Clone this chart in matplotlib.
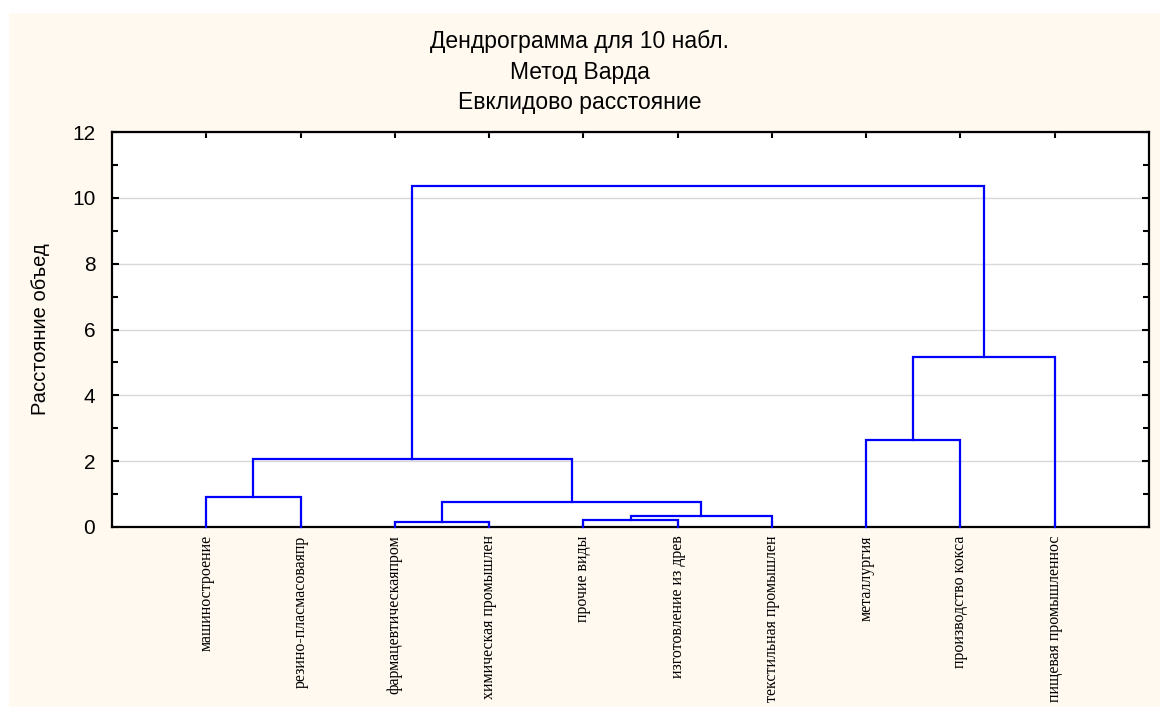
import numpy as np
import matplotlib
matplotlib.use('Agg')
import matplotlib.pyplot as plt
from matplotlib.patches import Rectangle
from matplotlib.ticker import MultipleLocator

labels = ['машиностроение', 'резино-пласмасоваяпр', 'фармацевтическаяпром',
          'химическая промышлен', 'прочие виды', 'изготовление из древ',
          'текстильная промышлен', 'металлургия', 'производство кокса',
          'пищевая промышленнос']

# merges: (left node, right node, height); new nodes get ids 10, 11, ...
left_node = [2, 4, 11, 0, 10, 13, 7, 16, 15]
right_node = [3, 5, 6, 1, 12, 14, 8, 9, 17]
heights = [0.15, 0.21, 0.33, 0.92, 0.76, 2.08, 2.64, 5.15, 10.36]

fig = plt.figure(figsize=(11.6, 7.09), dpi=100, facecolor='white')
fig.patches.append(Rectangle((9/1160, 2/709), 1 - 9/1160, 694/709,
                             transform=fig.transFigure, facecolor='#FFF9EF',
                             edgecolor='none', zorder=-10))
ax = fig.add_axes([112/1160, 1 - 527/709, (1149 - 112)/1160, (527 - 132)/709])
ax.set_facecolor('white')

n = len(labels)
xpos = {i: i + 1 for i in range(n)}
hpos = {i: 0.0 for i in range(n)}
for k, (a, b, h) in enumerate(zip(left_node, right_node, heights)):
    xa, xb = xpos[a], xpos[b]
    ax.plot([xa, xa, xb, xb], [hpos[a], h, h, hpos[b]], color='#0000FF', lw=1.6,
            solid_joinstyle='miter', zorder=3, clip_on=False)
    xpos[n + k] = (xa + xb) / 2
    hpos[n + k] = h

ax.set_xlim(0, n + 1)
ax.set_ylim(0, 12)
ax.yaxis.set_major_locator(MultipleLocator(2))
ax.yaxis.set_minor_locator(MultipleLocator(1))
ax.grid(axis='y', which='major', color='#D8D8D8', lw=1)
ax.set_axisbelow(True)
ax.set_xticks(np.arange(1, n + 1))
ax.set_xticklabels(labels, rotation=90, fontsize=11.5, family='Liberation Serif', va='top')
ax.tick_params(axis='x', direction='in', length=4, width=1.5, top=True, pad=6)
ax.tick_params(axis='y', which='both', direction='in', width=1.5, right=True,
               labelsize=15, pad=12)
ax.tick_params(axis='y', which='major', length=5)
ax.tick_params(axis='y', which='minor', length=4)
for lab in ax.get_yticklabels():
    lab.set_family('Liberation Sans')
for s in ax.spines.values():
    s.set_linewidth(1.6)

ax.set_ylabel('Расстояние объед', fontsize=14.5, family='Liberation Sans')
ax.yaxis.set_label_coords(-0.06, 0.5)

fig.text(0.5, 1 - 41/709, 'Дендрограмма для 10 набл.', ha='center', va='center',
         fontsize=16.5, family='Liberation Sans')
fig.text(0.5, 1 - 72/709, 'Метод Варда', ha='center', va='center',
         fontsize=16.5, family='Liberation Sans')
fig.text(0.5, 1 - 103/709, 'Евклидово расстояние', ha='center', va='center',
         fontsize=16.5, family='Liberation Sans')

fig.savefig('out.png', dpi=100, facecolor=fig.get_facecolor())
